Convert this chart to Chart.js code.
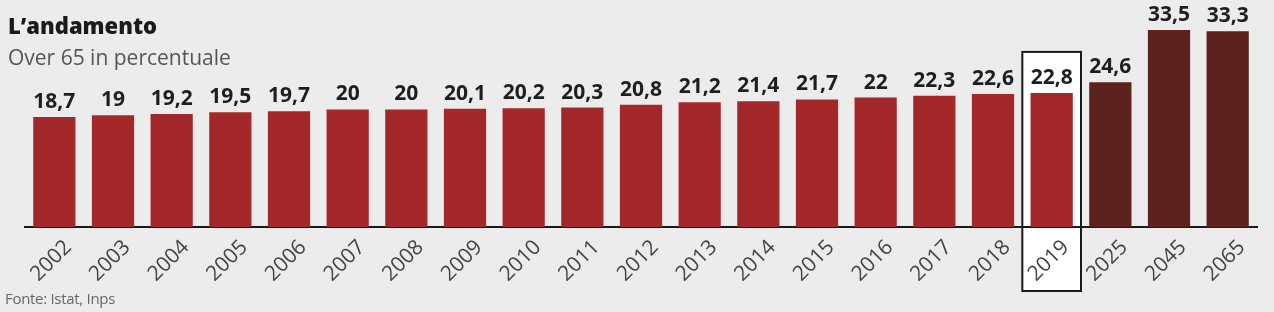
<!DOCTYPE html>
<html>
<head>
<meta charset="utf-8">
<script src="https://cdn.jsdelivr.net/npm/chart.js@4"></script>
<style>
  html, body { margin:0; padding:0; background:#ececec; }
  #wrap { position:relative; width:1274px; height:312px; overflow:hidden; background:#ececec; }
  canvas { position:absolute; left:0; top:0; }
  .t { position:absolute; white-space:nowrap; }
  #title { left:8px; top:14px; font:800 22px/22px "Open Sans", sans-serif; color:#1a1a1a; }
  #sub { left:8px; top:47px; font:400 21px/21px "Open Sans", sans-serif; color:#555; }
  #src { left:5px; top:291px; font:400 15px/15px "Liberation Sans Narrow", "Open Sans", sans-serif; color:#666; letter-spacing:-0.3px; }
</style>
</head>
<body>
<div id="wrap">
  <canvas id="c" width="1274" height="312"></canvas>
  <div class="t" id="title">L’andamento</div>
  <div class="t" id="sub">Over 65 in percentuale</div>
  <div class="t" id="src">Fonte: Istat, Inps</div>
</div>
<script>
const years = ["2002","2003","2004","2005","2006","2007","2008","2009","2010","2011","2012","2013","2014","2015","2016","2017","2018","2019","2025","2045","2065"];
const over65 = [18.7,19,19.2,19.5,19.7,20,20,20.1,20.2,20.3,20.8,21.2,21.4,21.7,22,22.3,22.6,22.8,24.6,33.5,33.3];
const highlightYear = "2019";
const lastObservedYear = 2019;

const RED = "#a3282a", DARK = "#5d221e";

const labelPlugin = {
  id: "valueLabels",
  afterDatasetsDraw(chart) {
    const ctx = chart.ctx;
    const meta = chart.getDatasetMeta(0);
    ctx.save();
    ctx.font = "700 21px 'Open Sans', sans-serif";
    ctx.fillStyle = "#1e1e1e";
    ctx.textAlign = "center";
    ctx.textBaseline = "alphabetic";
    meta.data.forEach((bar, i) => {
      const txt = String(over65[i]).replace(".", ",");
      ctx.fillText(txt, bar.x, bar.y - 9);
    });
    ctx.restore();
  }
};

const boxPlugin = {
  id: "highlightBox",
  beforeDraw(chart) {
    const ctx = chart.ctx;
    const xs = chart.scales.x, ys = chart.scales.y;
    const i = years.indexOf(highlightYear);
    const cx = xs.getPixelForValue(i);
    const w = xs.getPixelForValue(1) - xs.getPixelForValue(0);
    const top = ys.getPixelForValue(over65[i]) - 41;
    const bottom = 291;
    ctx.save();
    ctx.fillStyle = "#ffffff";
    ctx.fillRect(cx - w/2, top, w, bottom - top);
    ctx.strokeStyle = "#1a1a1a";
    ctx.lineWidth = 2;
    ctx.strokeRect(cx - w/2, top, w, bottom - top);
    ctx.restore();
  }
};

new Chart(document.getElementById("c"), {
  type: "bar",
  data: {
    labels: years,
    datasets: [{
      data: over65,
      backgroundColor: years.map(y => (+y > lastObservedYear ? DARK : RED)),
      barPercentage: 0.72,
      categoryPercentage: 1.0
    }]
  },
  options: {
    responsive: false,
    animation: false,
    devicePixelRatio: 1,
    layout: { padding: { left: 25, right: 17, top: 0, bottom: 0 } },
    plugins: { legend: { display: false }, tooltip: { enabled: false }, title: { display: false } },
    scales: {
      x: {
        grid: { display: false, drawTicks: false },
        border: { display: true, color: "#1a1a1a", width: 2 },
        ticks: {
          color: "#444",
          font: { family: "'Open Sans', sans-serif", size: 21 },
          minRotation: 45, maxRotation: 45,
          padding: 8,
          labelOffset: 14,
          autoSkip: false
        },
        afterFit(scale) { scale.height = 85; }
      },
      y: {
        display: false,
        min: 0,
        max: 38.6
      }
    }
  },
  plugins: [boxPlugin, labelPlugin]
});
</script>
</body>
</html>
